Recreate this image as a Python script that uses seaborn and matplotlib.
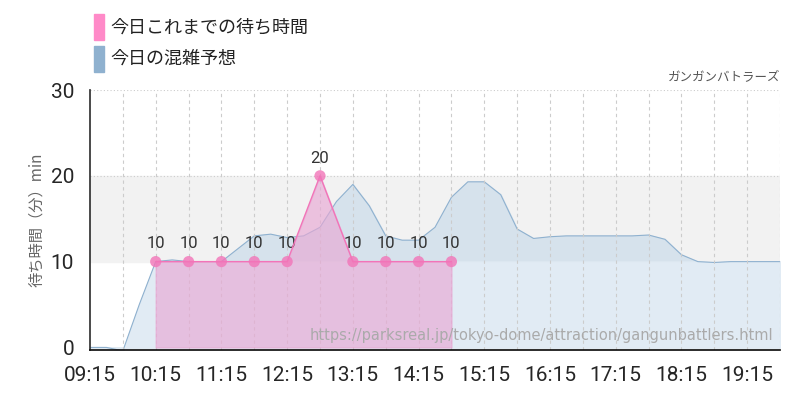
import numpy as np
import pandas as pd
import matplotlib
matplotlib.use('Agg')
import matplotlib.pyplot as plt
import seaborn as sns

sns.set_theme(style='white')
plt.rcParams['font.family'] = ['Noto Sans CJK JP', 'DejaVu Sans']

# minutes since 09:15
actual_min = [60, 90, 120, 150, 180, 210, 240, 270, 300, 330]
actual_val = [10, 10, 10, 10, 10, 20, 10, 10, 10, 10]

fc_min = list(range(0, 631, 15))
fc_val = [0, 0, -0.4, 5, 10, 10.2, 10, 10, 10, 11.5, 13, 13.2, 12.8, 13, 14,
          17, 19, 16.5, 13, 12.5, 12.5, 14, 17.5, 19.3, 19.3, 17.8, 13.8, 12.7,
          12.9, 13, 13, 13, 13, 13, 13.1, 12.6, 10.8, 10, 9.9, 10, 10, 10, 10, 10]
fc_val = fc_val[:len(fc_min)]
tick_labels = ['09:15', '10:15', '11:15', '12:15', '13:15', '14:15', '15:15',
               '16:15', '17:15', '18:15', '19:15']

pink = '#f274b8'
blue = '#8fb1cf'

fig = plt.figure(figsize=(8, 4), dpi=100)
ax = fig.add_axes([0.1125, 0.125, 0.8625, 0.65])

ax.axhspan(10, 20, color='#f2f2f2', zorder=0)
fx = np.array(fc_min); fy = np.array(fc_val)
ax.fill_between(fx, 0, fy, color='#d6e2ec', zorder=1)
ax.fill_between(fx, 0, np.minimum(fy, 10), color='#e1ebf4', zorder=1)
sns.lineplot(x=fx, y=fy, ax=ax, color=blue, lw=0.8, zorder=2)

ax.fill_between(actual_min, 0, actual_val, color='#e8a8d4', alpha=0.65, zorder=3)
sns.lineplot(x=actual_min, y=actual_val, ax=ax, color=pink, lw=1, zorder=4)
sns.scatterplot(x=actual_min, y=actual_val, ax=ax, color=pink, s=65,
                alpha=0.8, edgecolor='none', zorder=5)
for m, v in zip(actual_min, actual_val):
    ax.text(m, v + 1.2, str(v), ha='center', va='bottom', fontsize=12,
            color='#333333', family='Roboto')

ax.set_xlim(0, 630)
ax.set_ylim(-0.3, 30)
ax.set_xticks(range(0, 631, 60))
ax.set_xticklabels(tick_labels, fontsize=15, family='Roboto')
ax.set_yticks([0, 10, 20, 30])
ax.set_yticklabels(['0', '10', '20', '30'], fontsize=15, family='Roboto')
ax.tick_params(axis='both', which='both', length=8, color='#bbbbbb')
for x in range(30, 631, 30):
    ax.axvline(x, color='#cccccc', ls=(0, (3, 3)), lw=0.8, zorder=2.5)
for y in [20, 30]:
    ax.axhline(y, color='#cccccc', ls=(0, (1, 2)), lw=0.8, zorder=0.5)
for s in ['top', 'right']:
    ax.spines[s].set_visible(False)
ax.spines['left'].set_color('#333333')
ax.spines['bottom'].set_color('#111111')
ax.set_ylabel('待ち時間（分）min', fontsize=11, color='#666666')

ax.text(0.99, 0.04, 'https://parksreal.jp/tokyo-dome/attraction/gangunbattlers.html',
        transform=ax.transAxes, fontsize=10.5, color='#aaaaaa', ha='right',
        family='DejaVu Sans', zorder=6)
fig.text(0.975, 0.8, 'ガンガンバトラーズ', ha='right', fontsize=9, color='#555555')

fig.patches.append(plt.Rectangle((0.118, 0.9), 0.012, 0.065, color='#ff8ac8',
                                 transform=fig.transFigure))
fig.patches.append(plt.Rectangle((0.118, 0.82), 0.012, 0.065, color='#8fb1cf',
                                 transform=fig.transFigure))
fig.text(0.138, 0.932, '今日これまでの待ち時間', fontsize=13, va='center', color='#222222')
fig.text(0.138, 0.852, '今日の混雑予想', fontsize=13, va='center', color='#222222')

fig.savefig('out.png', dpi=100)
